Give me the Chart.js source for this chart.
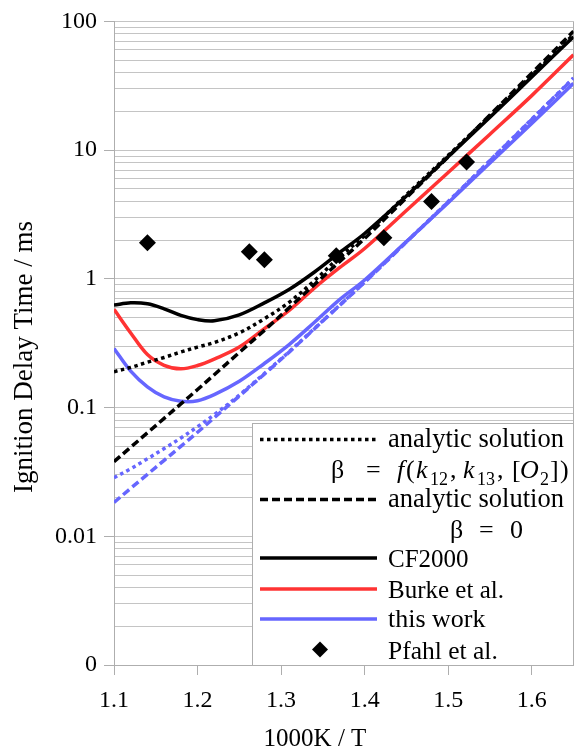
<!DOCTYPE html>
<html>
<head>
<meta charset="utf-8">
<script src="https://cdn.jsdelivr.net/npm/chart.js@4.4.1/dist/chart.umd.min.js"></script>
<style>
html,body{margin:0;padding:0;background:#fff;}
#wrap{width:582px;height:753px;position:relative;}
</style>
</head>
<body>
<div id="wrap"><canvas id="c" width="582" height="753"></canvas></div>
<script>
// ---- data ----
const xValues        = [1.10,1.12,1.14,1.16,1.18,1.20,1.22,1.25,1.28,1.31,1.34,1.37,1.40,1.45,1.50,1.55,1.60,1.65];
const analyticBetaF  = [0.19,0.205,0.225,0.245,0.27,0.295,0.32,0.38,0.49,0.66,0.97,1.48,2.17,4.5,9.1,18.5,38,79];
const analyticBeta0  = [0.038,0.0492,0.0637,0.0824,0.1067,0.138,0.18,0.268,0.398,0.599,0.904,1.36,2.06,4.27,8.87,18.75,39.6,83.8];
const cf2000         = [0.625,0.652,0.64,0.585,0.52,0.482,0.472,0.525,0.65,0.83,1.13,1.6,2.25,4.4,8.9,18.0,37,76];
const burke          = [0.58,0.38,0.258,0.213,0.2,0.212,0.238,0.295,0.41,0.57,0.85,1.22,1.72,3.4,6.7,13.3,26.5,55];
const thisWork       = [0.288,0.192,0.145,0.121,0.112,0.113,0.126,0.16,0.22,0.31,0.46,0.69,0.98,1.95,3.9,7.95,16.1,33];
const thisWorkBetaF  = [0.0285,0.0335,0.040,0.048,0.058,0.071,0.088,0.125,0.184,0.273,0.412,0.623,0.945,1.94,3.98,8.3,17.4,36.3];
const thisWorkBeta0  = [0.0183,0.0236,0.0303,0.0389,0.05,0.0643,0.0834,0.123,0.182,0.271,0.41,0.621,0.94,1.93,3.96,8.28,17.3,36.1];
const pfahlX         = [1.14,1.262,1.28,1.366,1.423,1.480,1.522];
const pfahlY         = [1.91,1.62,1.41,1.51,2.09,3.99,8.09];
const xTickValues    = [1.1,1.2,1.3,1.4,1.5,1.6];
const yDecades       = [0.001,0.01,0.1,1,10,100];
const yTickLabels    = ['0','0.01','0.1','1','10','100'];
const xTitle = '1000K / T';
const yTitle = 'Ignition Delay Time / ms';

const FONT = '"Liberation Serif", "Times New Roman", serif';
const GRID = '#c4c4c4';
const AXIS = '#aeaeae';
const RED = '#ff3333';
const BLUE = '#6666ff';
const LW = 3.5;
const DOT = [3.5, 3.5];
const DASH = [8, 4];

const pts = arr => xValues.map((x, i) => ({x, y: arr[i]}));
const lineDs = (label, arr, color, dash) => ({
  type: 'line', label, data: pts(arr), borderColor: color, backgroundColor: color,
  borderWidth: LW, borderDash: dash, borderCapStyle: 'butt', pointRadius: 0,
  tension: 0.35, fill: false
});

const isMajor = v => yDecades.some(d => Math.abs(v - d) / d < 1e-9);

const titlePlugin = {
  id: 'axisTitles',
  afterDraw(chart) {
    const ctx = chart.ctx;
    ctx.save();
    ctx.fillStyle = '#000';
    ctx.textAlign = 'center';
    ctx.textBaseline = 'alphabetic';
    ctx.font = '25px ' + FONT;
    ctx.fillText(xTitle, 315, 746);
    ctx.translate(31.5, 357);
    ctx.rotate(-Math.PI / 2);
    ctx.font = '27px ' + FONT;
    ctx.fillText(yTitle, 0, 0);
    ctx.restore();
  }
};

const framePlugin = {
  id: 'frame',
  beforeDatasetsDraw(chart) {
    const ctx = chart.ctx, a = chart.chartArea;
    ctx.save();
    ctx.strokeStyle = AXIS; ctx.lineWidth = 1;
    const xr = Math.round(a.right) - 0.5;
    ctx.beginPath(); ctx.moveTo(xr, a.top); ctx.lineTo(xr, a.bottom); ctx.stroke();
    ctx.restore();
  }
};

const legendPlugin = {
  id: 'legendBox',
  afterDraw(chart) {
    const ctx = chart.ctx, a = chart.chartArea, ds = chart.data.datasets;
    const L = 252, T = 423, R = Math.round(a.right), B = Math.round(a.bottom);
    ctx.save();
    ctx.fillStyle = '#fff';
    ctx.fillRect(L, T, R - L, B - T);
    ctx.strokeStyle = AXIS; ctx.lineWidth = 1;
    ctx.strokeRect(L + 0.5, T + 0.5, R - L - 1, B - T);
    const items = [
      {d: ds[1], y: 439.5, ty: 447, fs: 26.5},
      {d: ds[2], y: 499.5, ty: 507, fs: 26.5},
      {d: ds[5], y: 558, ty: 567, fs: 25},
      {d: ds[6], y: 589, ty: 597.5, fs: 25},
      {d: ds[7], y: 619, ty: 627, fs: 26}
    ];
    items.forEach(it => {
      ctx.save();
      ctx.strokeStyle = it.d.borderColor; ctx.lineWidth = LW; ctx.lineCap = 'butt';
      ctx.setLineDash(it.d.borderDash || []);
      ctx.beginPath(); ctx.moveTo(260, it.y); ctx.lineTo(377, it.y); ctx.stroke();
      ctx.restore();
      ctx.fillStyle = '#000'; ctx.font = it.fs + 'px ' + FONT; ctx.textAlign = 'left'; ctx.textBaseline = 'alphabetic';
      ctx.fillText(it.d.legendText, 388, it.ty);
    });
    // diamond marker
    const dx = 320, dy = 649.5, r = 8;
    ctx.fillStyle = '#000';
    ctx.beginPath(); ctx.moveTo(dx, dy - r); ctx.lineTo(dx + r, dy); ctx.lineTo(dx, dy + r); ctx.lineTo(dx - r, dy); ctx.closePath(); ctx.fill();
    ctx.font = '25.5px ' + FONT;
    ctx.fillText(ds[0].label, 388, 658.5);

    // formula line: β = f(k12, k13, [O2])
    const put = (t, x, y, style, size) => {
      ctx.font = (style || '') + ' ' + (size || 26) + 'px ' + FONT;
      ctx.fillText(t, x, y);
    };
    let y = 478;
    put('β', 331, y);
    put('=', 366, y);
    put('f', 397, y, 'italic');
    put('(', 406, y);
    put('k', 416, y, 'italic');
    put('12', 430, y + 7, '', 18);
    put(',', 450, y);
    put('k', 463, y, 'italic');
    put('13', 477, y + 7, '', 18);
    put(',', 497, y);
    put('[', 512, y);
    put('O', 520, y, 'italic');
    put('2', 540, y + 7, '', 18);
    put(']', 550, y);
    put(')', 560, y);
    // β = 0
    y = 538;
    put('β', 450, y);
    put('=', 479, y);
    put('0', 510, y);
    ctx.restore();
  }
};

const datasets = [
  {type: 'scatter', label: 'Pfahl et al.', data: pfahlX.map((x, i) => ({x, y: pfahlY[i]})),
   pointStyle: 'rectRot', pointRadius: 8.5, pointHoverRadius: 8.5, backgroundColor: '#000', borderColor: '#000', borderWidth: 0, showLine: false},
  Object.assign(lineDs('analytic solution β = f(k12,k13,[O2])', analyticBetaF, '#000', DOT), {legendText: 'analytic solution'}),
  Object.assign(lineDs('analytic solution β = 0', analyticBeta0, '#000', DASH), {legendText: 'analytic solution'}),
  lineDs('this work, β = f(k12,k13,[O2])', thisWorkBetaF, BLUE, DOT),
  lineDs('this work, β = 0', thisWorkBeta0, BLUE, DASH),
  Object.assign(lineDs('CF2000', cf2000, '#000', []), {legendText: 'CF2000'}),
  Object.assign(lineDs('Burke et al.', burke, RED, []), {legendText: 'Burke et al.'}),
  Object.assign(lineDs('this work', thisWork, BLUE, []), {legendText: 'this work'})
];

new Chart(document.getElementById('c'), {
  type: 'line',
  data: {datasets},
  options: {
    responsive: false,
    animation: false,
    devicePixelRatio: 1,
    layout: {padding: {top: 12, right: 7, left: 0, bottom: 0}},
    plugins: {legend: {display: false}, tooltip: {enabled: false}, title: {display: false}},
    scales: {
      x: {
        type: 'linear', min: 1.1, max: 1.65,
        afterBuildTicks: s => { s.ticks = xTickValues.map(v => ({value: v})); },
        afterFit: s => { s.height = 88; },
        grid: {drawOnChartArea: false, drawTicks: true, tickLength: 10, color: AXIS, tickColor: AXIS},
        border: {display: true, color: AXIS},
        ticks: {autoSkip: false, maxRotation: 0, padding: 11, color: '#000',
                font: {family: FONT, size: 24}, callback: v => Number(v).toFixed(1)}
      },
      y: {
        type: 'logarithmic', min: 0.001, max: 100,
        afterBuildTicks: s => {
          const t = [];
          yDecades.forEach((d, i) => {
            if (i < yDecades.length - 1) { for (let m = 1; m < 10; m++) t.push({value: m * d}); }
            else t.push({value: d});
          });
          s.ticks = t;
        },
        afterFit: s => { s.width = 114; },
        grid: {drawOnChartArea: true, drawTicks: true, tickLength: 10, color: GRID,
               tickColor: c => (c.tick && isMajor(c.tick.value)) ? AXIS : 'rgba(0,0,0,0)'},
        border: {display: true, color: AXIS},
        ticks: {autoSkip: false, padding: 7, color: '#000', font: {family: FONT, size: 24},
                callback: v => { const k = yDecades.findIndex(d => Math.abs(v - d) / d < 1e-9); return k >= 0 ? yTickLabels[k] : ''; }}
      }
    }
  },
  plugins: [framePlugin, legendPlugin, titlePlugin]
});
</script>
</body>
</html>
